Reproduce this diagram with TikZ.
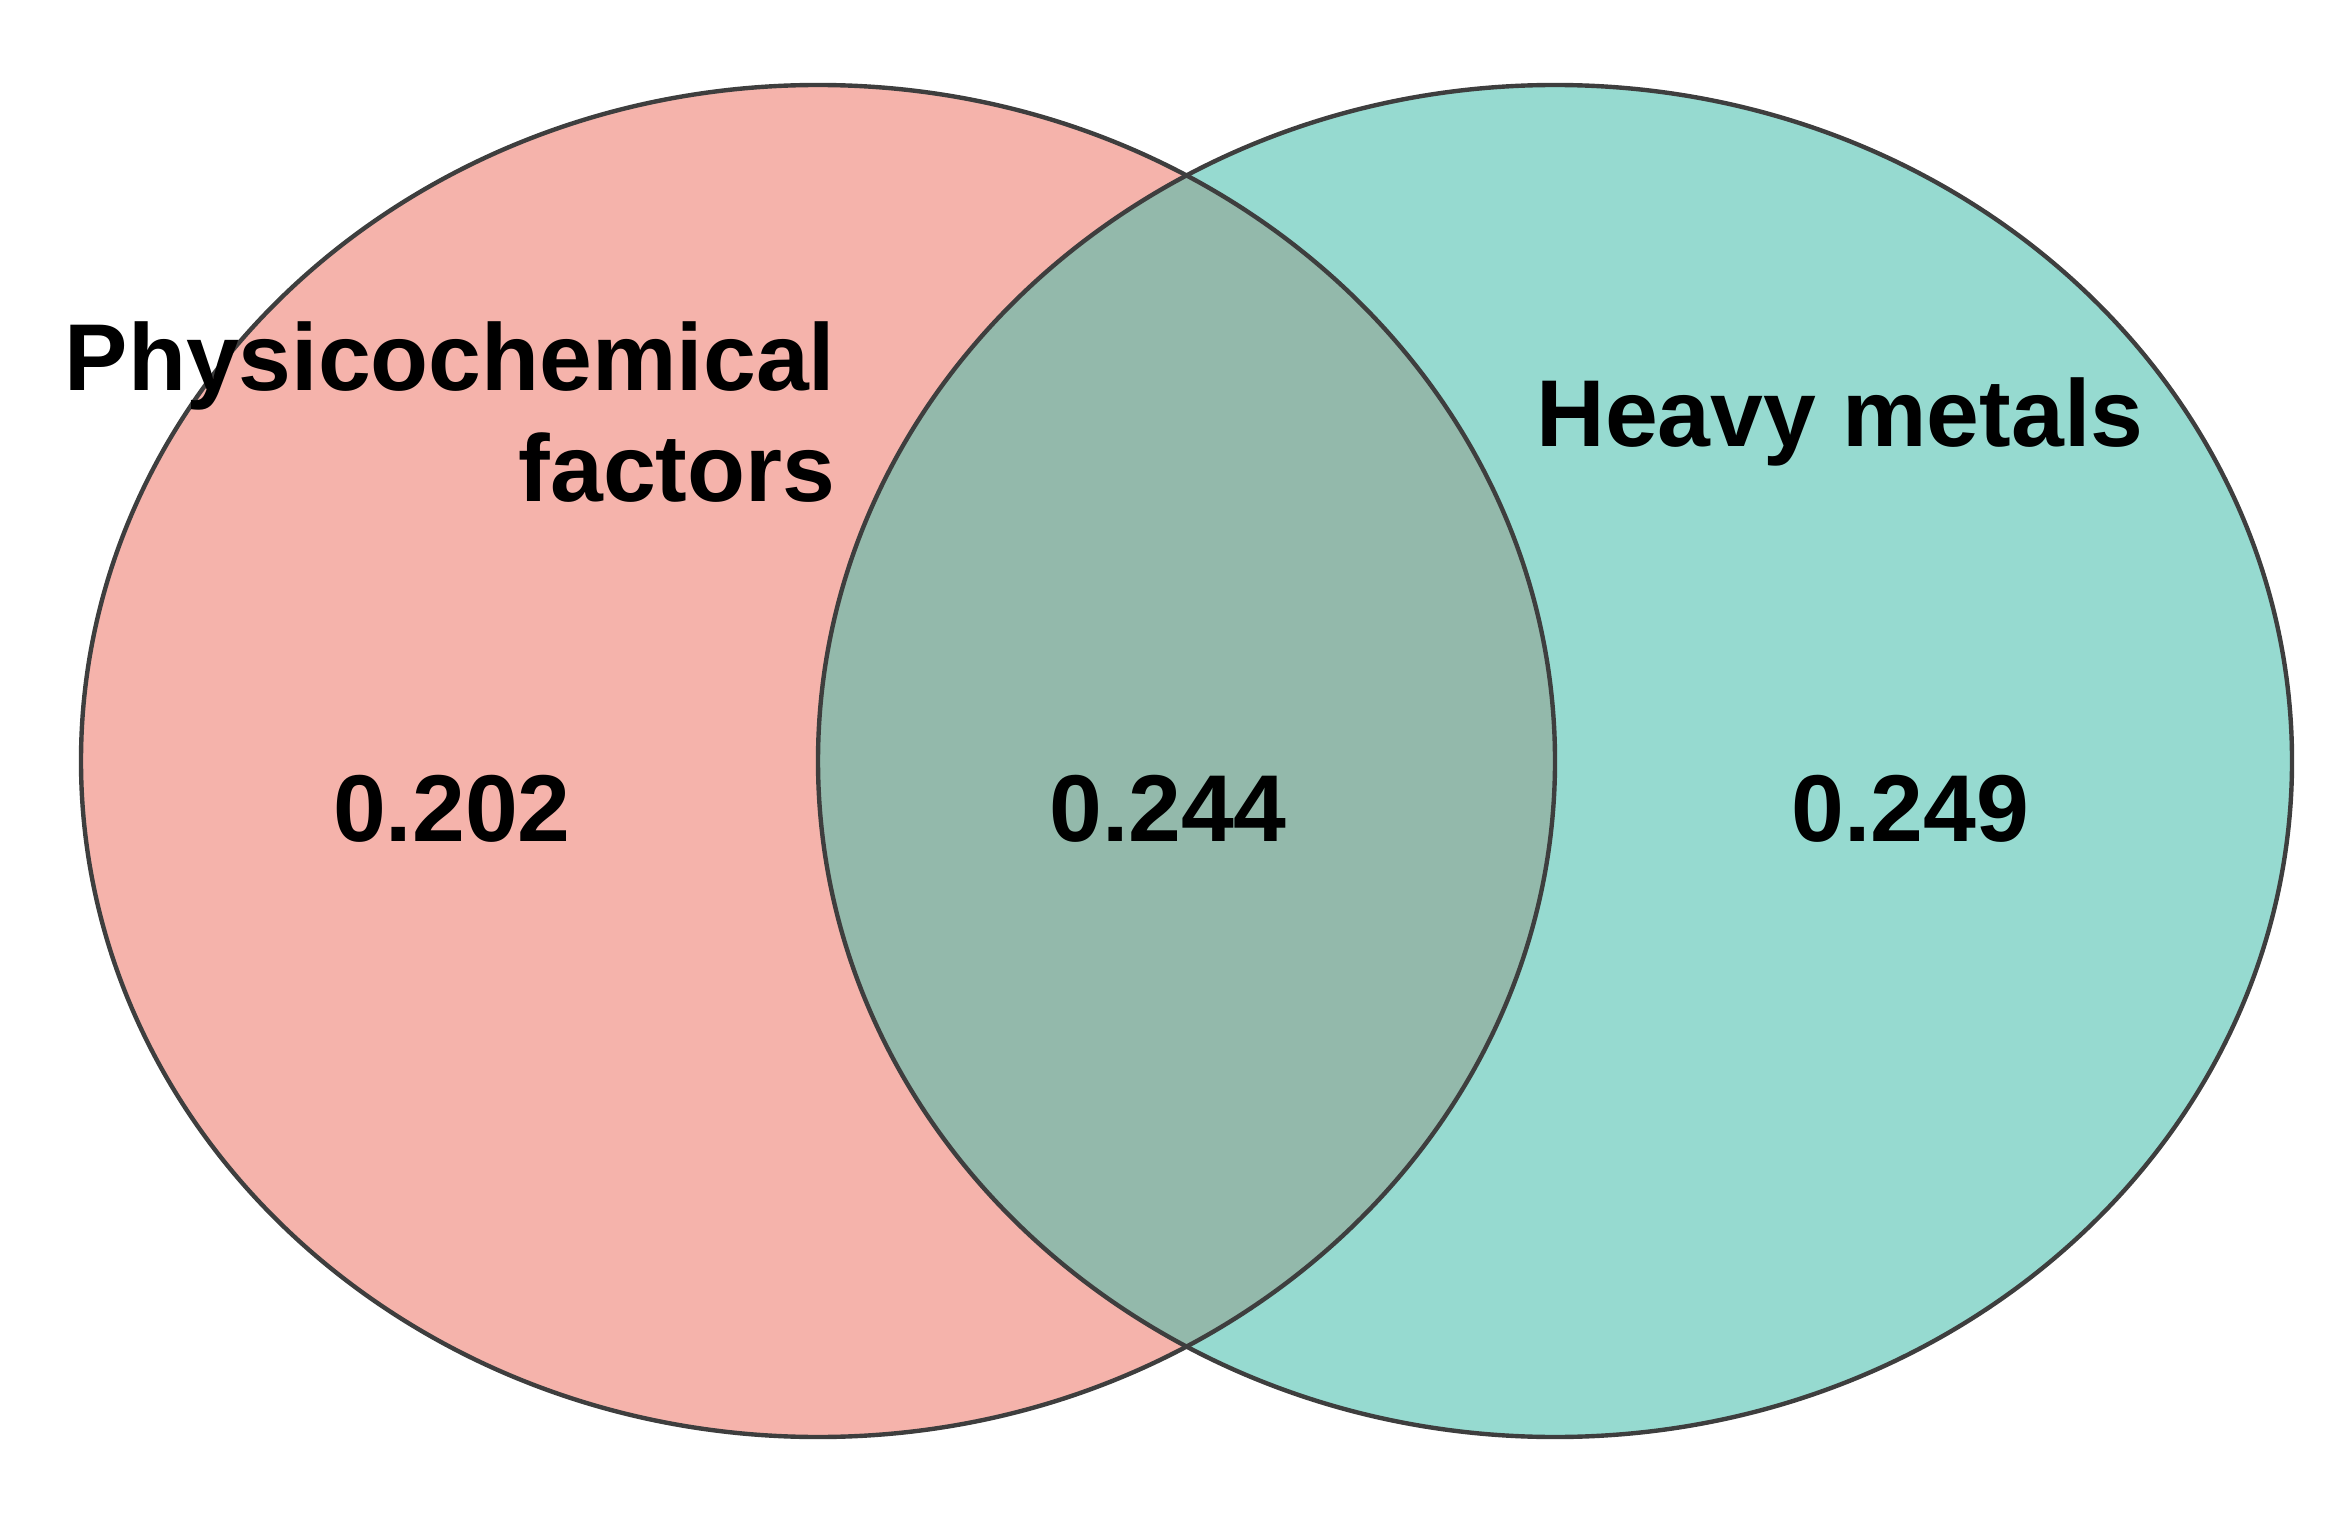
\documentclass[tikz,border=0pt]{standalone}
\usepackage{fontspec}
\setmainfont{Liberation Sans}
\definecolor{pinkfill}{HTML}{F5B3AB}
\definecolor{tealfill}{HTML}{96DAD0}
\definecolor{overfill}{HTML}{93B9AB}
\definecolor{edge}{HTML}{3E3E3E}
\tikzset{
  setlabel/.style={inner sep=0pt, font=\fontsize{27}{31.6}\selectfont\bfseries, text=black},
  outline/.style={draw=edge, line width=1.25pt}
}
\begin{document}
\begin{tikzpicture}[x=0.01cm, y=-0.01cm]
\useasboundingbox (0,0) rectangle (2352,1525);
\coordinate (cl) at (818,761);
\coordinate (cr) at (1555,761);
\fill[pinkfill] (cl) ellipse [x radius=737, y radius=676];
\fill[tealfill] (cr) ellipse [x radius=737, y radius=676];
\begin{scope}
  \clip (cl) ellipse [x radius=737, y radius=676];
  \fill[overfill] (cr) ellipse [x radius=737, y radius=676];
\end{scope}
\draw[outline] (cl) ellipse [x radius=737, y radius=676];
\draw[outline] (cr) ellipse [x radius=737, y radius=676];
\node[setlabel, align=right, anchor=base east] (phys) at (836,502) {Physicochemical\\factors};
\node[setlabel, anchor=base] (heavy) at (1840,447) {Heavy metals};
\node[setlabel, anchor=base] (a) at (452,841) {0.202};
\node[setlabel, anchor=base] (b) at (1168,841) {0.244};
\node[setlabel, anchor=base] (c) at (1910,841) {0.249};
\end{tikzpicture}
\end{document}
